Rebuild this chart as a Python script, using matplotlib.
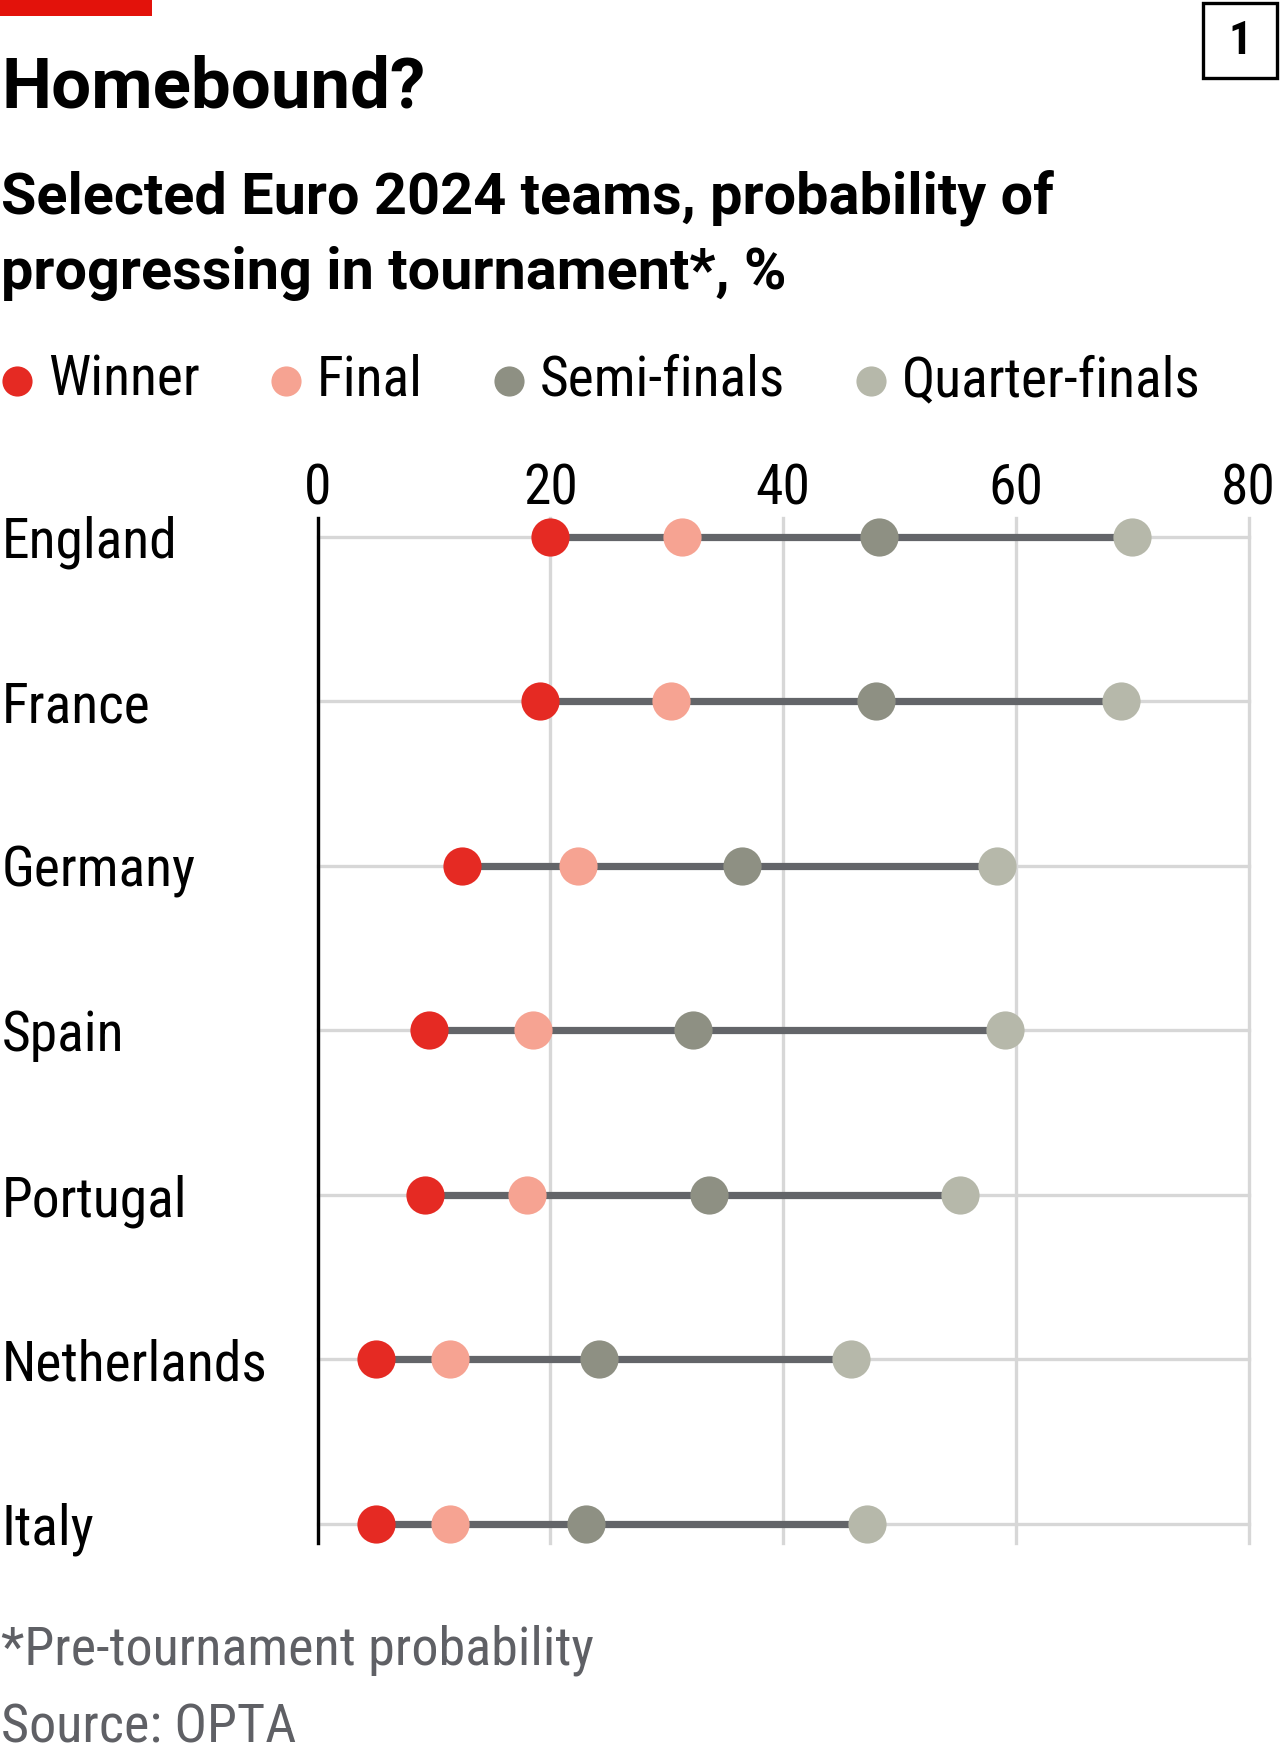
import os
import matplotlib
matplotlib.use("Agg")
import matplotlib.pyplot as plt
from matplotlib import font_manager as fm
from matplotlib.patches import Rectangle

# ---------------- data ----------------
countries = ["England", "France", "Germany", "Spain", "Portugal", "Netherlands", "Italy"]
winner = [20.0, 19.1, 12.4, 9.6, 9.2, 5.0, 5.0]
final = [31.3, 30.4, 22.4, 18.5, 18.0, 11.4, 11.4]
semi = [48.2, 48.0, 36.5, 32.3, 33.6, 24.2, 23.1]
quarter = [70.0, 69.0, 58.4, 59.1, 55.2, 45.8, 47.2]
series_labels = ["Winner", "Final", "Semi-finals", "Quarter-finals"]
x_ticks = [0, 20, 40, 60, 80]

title = "Homebound?"
subtitle1 = "Selected Euro 2024 teams, probability of"
subtitle2 = "progressing in tournament*, %"
footnote = "*Pre-tournament probability"
source = "Source: OPTA"

# ---------------- colours ----------------
RED = "#E3120B"
C_WIN = "#E52A23"
C_FIN = "#F6A392"
C_SEMI = "#8E9083"
C_QF = "#B6B8AA"
C_CONN = "#636569"
C_GRID = "#D7D7D7"
C_FOOT = "#5F6065"


# ---------------- fonts (prefer a condensed face) ----------------
def find_condensed():
    prefs = ["robotocondensed", "liberationsansnarrow", "notosans-condensed",
             "dejavusanscondensed", "opensans_condensed", "opensans-condensed"]
    files = sorted({f.fname for f in fm.fontManager.ttflist})
    bad_reg = ["bold", "light", "thin", "medium", "black", "italic", "oblique",
               "extracondensed", "semicondensed", "semibold"]
    bad_bold = ["semibold", "extrabold", "demibold", "italic", "oblique",
                "extracondensed", "semicondensed"]
    for p in prefs:
        reg = bold = None
        for fn in files:
            base = os.path.basename(fn).lower().replace(" ", "")
            if p not in base:
                continue
            if "bold" in base and not any(b in base for b in bad_bold):
                bold = bold or fn
            elif not any(b in base for b in bad_reg):
                reg = reg or fn
        if reg and bold:
            return reg, bold
    return None, None


REG_FILE, BOLD_FILE = find_condensed()


def fp(size, bold=False):
    if REG_FILE:
        return fm.FontProperties(fname=BOLD_FILE if bold else REG_FILE, size=size)
    return fm.FontProperties(family="Roboto", weight="bold" if bold else "normal", size=size)


def fp_wide(size, weight="bold"):
    return fm.FontProperties(family=["Roboto", "DejaVu Sans"], weight=weight, size=size)


# ---------------- figure ----------------
W, H = 1280, 1760
fig = plt.figure(figsize=(W / 100, H / 100), dpi=100)
fig.patch.set_facecolor("white")

ax_left, ax_right = 317.5 / W, 1248.75 / W
ax_top, ax_bot = 1 - 518 / H, 1 - 1543 / H
ax = fig.add_axes([ax_left, ax_bot, ax_right - ax_left, ax_top - ax_bot])

rows = list(range(len(countries)))
pad_rows = 19 / 164.5
ax.set_ylim(len(countries) - 1 + pad_rows, -pad_rows)
ax.set_xlim(0, 80)

# connectors
ax.hlines(rows, winner, quarter, color=C_CONN, lw=5.2, zorder=2, capstyle="butt")

# dots
msize = 27.5 ** 2
for vals, col, lab in zip([winner, final, semi, quarter],
                          [C_WIN, C_FIN, C_SEMI, C_QF], series_labels):
    ax.scatter(vals, rows, s=msize, color=col, linewidths=0, zorder=3, label=lab)

# grid
ax.set_xticks(x_ticks)
ax.set_yticks(rows)
ax.grid(True, axis="both", color=C_GRID, lw=2.4, zorder=0)
ax.set_axisbelow(True)
for gl in ax.get_xgridlines() + ax.get_ygridlines():
    gl.set_clip_on(False)

for s in ["top", "right", "bottom"]:
    ax.spines[s].set_visible(False)
ax.spines["left"].set_color("black")
ax.spines["left"].set_linewidth(2.4)
ax.spines["left"].set_zorder(4)

# top tick labels
ax.xaxis.tick_top()
ax.tick_params(axis="x", length=0, pad=2)
ax.set_xticklabels([str(t) for t in x_ticks])
for t in ax.get_xticklabels():
    t.set_fontproperties(fp(40))
    t.set_color("black")

# country labels left-aligned at the figure edge
ax.tick_params(axis="y", length=0, pad=(ax_left * W - 2) * 72 / 100)
ax.set_yticklabels(countries)
for t in ax.get_yticklabels():
    t.set_fontproperties(fp(40))
    t.set_horizontalalignment("left")
    t.set_color("black")

# ---------------- header ----------------
fig.patches.append(Rectangle((0, 1 - 16 / H), 152 / W, 16 / H, transform=fig.transFigure,
                             facecolor=RED, edgecolor="none", zorder=5))
fig.patches.append(Rectangle((1203 / W, 1 - 78 / H), 74 / W, 75 / H, transform=fig.transFigure,
                             facecolor="none", edgecolor="black", lw=2.4, zorder=5))
fig.text(1240 / W, 1 - 40.5 / H, "1", fontproperties=fp(33, bold=True),
         ha="center", va="center", color="black")

fig.text(1 / W, 1 - 107 / H, title, fontproperties=fp_wide(51),
         ha="left", va="baseline", color="black")
fig.text(1 / W, 1 - 213 / H, subtitle1, fontproperties=fp_wide(41.5),
         ha="left", va="baseline", color="black")
fig.text(1 / W, 1 - 289 / H, subtitle2, fontproperties=fp_wide(41.5),
         ha="left", va="baseline", color="black")

# legend
handles, labels = ax.get_legend_handles_labels()
leg = fig.legend(handles, labels, loc="upper left", bbox_to_anchor=(0 / W, 1 - 354 / H),
                 ncol=4, frameon=False, prop=fp(40), markerscale=30 / 38,
                 handlelength=0.6, handletextpad=0.26, columnspacing=1.25,
                 borderpad=0, borderaxespad=0)

# ---------------- footer ----------------
fig.text(1 / W, 1 - 1664 / H, footnote, fontproperties=fp(39),
         ha="left", va="baseline", color=C_FOOT)
fig.text(1 / W, 1 - 1742 / H, source, fontproperties=fp(39),
         ha="left", va="baseline", color=C_FOOT)

fig.savefig("out.png", dpi=100, facecolor="white")
